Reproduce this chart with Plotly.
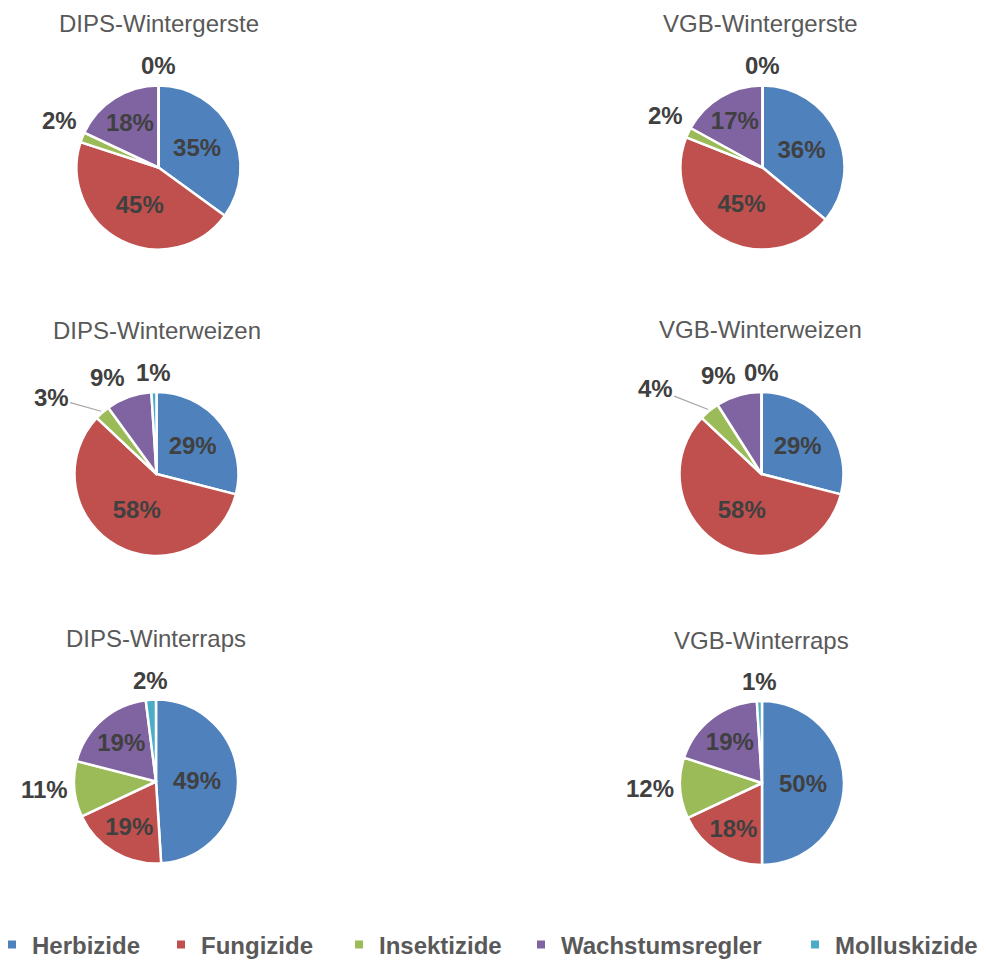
import math
import plotly.graph_objects as go

W, H = 986, 960
OFF = 8  # page offset of the plot inside the browser body

categories = ["Herbizide", "Fungizide", "Insektizide", "Wachstumsregler", "Molluskizide"]
colors = ["#4F81BD", "#C0504D", "#9BBB59", "#8064A2", "#4BACC6"]

titles = ["DIPS-Wintergerste", "VGB-Wintergerste",
          "DIPS-Winterweizen", "VGB-Winterweizen",
          "DIPS-Winterraps", "VGB-Winterraps"]

dips_wintergerste = [35, 45, 2, 18, 0]
vgb_wintergerste = [36, 45, 2, 17, 0]
dips_winterweizen = [29, 58, 3, 9, 1]
vgb_winterweizen = [29, 58, 4, 9, 0]
dips_winterraps = [49, 19, 11, 19, 2]
vgb_winterraps = [50, 18, 12, 19, 1]

series = [dips_wintergerste, vgb_wintergerste, dips_winterweizen,
          vgb_winterweizen, dips_winterraps, vgb_winterraps]

# ---- layout / style (pixel positions in the page) ----
centers = [(158.5, 167.5), (762.5, 167.5), (156.5, 474), (761.5, 474), (156, 781.5), (762, 783)]
R = 82
GAP = 4
title_pos = [(159, 23), (760, 23), (157, 330), (760, 329), (156, 638), (761, 640)]
# labels drawn with a leader line: (pie index, slice index) -> text offset in px
leaders = {(2, 2): (-50, -14), (3, 2): (-53, -21)}
legend_left = [-8, 161, 339, 521, 795]
legend_y = 945

FONT = "Liberation Sans, Arial, sans-serif"
LABEL_COLOR = "#404040"
TEXT_COLOR = "#595959"


def fx(px):
    return (px - OFF) / W


def fy(py):
    return 1 - (py - OFF) / H


fig = go.Figure()
annotations = []
for i, (vals, (cx, cy)) in enumerate(zip(series, centers)):
    total = sum(vals)
    inside = [v / total >= 0.15 for v in vals]
    fig.add_trace(go.Pie(
        labels=categories, values=vals, sort=False, direction="clockwise", rotation=0,
        marker=dict(colors=colors, line=dict(color="white", width=2.5)),
        texttemplate=["%{percent:.0%}" if ins else "" for ins in inside],
        textposition=["inside" if ins else "none" for ins in inside],
        insidetextorientation="horizontal",
        textfont=dict(family=FONT, size=24, color=LABEL_COLOR, weight="bold"),
        showlegend=False,
        domain=dict(x=[fx(cx - R), fx(cx + R)], y=[fy(cy + R), fy(cy - R)]),
        hoverinfo="label+percent",
    ))
    # outside labels, placed at the mid-angle of each small slice
    cum = 0
    for j, v in enumerate(vals):
        mid = (cum + v / 2) / total * 2 * math.pi
        cum += v
        if inside[j]:
            continue
        s, c = math.sin(mid), math.cos(mid)
        txt = f"{round(100 * v / total)}%"
        font = dict(family=FONT, size=24, color=LABEL_COLOR, weight="bold")
        if (i, j) in leaders:
            ax, ay = leaders[(i, j)]
            annotations.append(dict(
                text=txt, x=fx(cx + R * 1.02 * s), y=fy(cy - R * 1.02 * c),
                xref="paper", yref="paper", showarrow=True, arrowhead=0,
                arrowwidth=1.2, arrowcolor="#A6A6A6", ax=ax, ay=ay, standoff=0,
                font=font))
        else:
            px = cx + (R + GAP) * s
            py = cy - (R + GAP) * c
            xa = "right" if s < -0.15 else ("left" if s > 0.15 else "center")
            ya = "bottom" if c > 0.3 else ("top" if c < -0.3 else "middle")
            annotations.append(dict(
                text=txt, x=fx(px), y=fy(py), xref="paper", yref="paper",
                showarrow=False, xanchor=xa, yanchor=ya, font=font))

for t, (tx, ty) in zip(titles, title_pos):
    annotations.append(dict(text=t, x=fx(tx), y=fy(ty), xref="paper", yref="paper",
                            showarrow=False, xanchor="center", yanchor="middle",
                            font=dict(family=FONT, size=24, color=TEXT_COLOR)))

# legend: one legend per category so entries sit where the reference puts them
legend_layout = {}
for k, (cat, col, lx) in enumerate(zip(categories, colors, legend_left)):
    name = "legend" if k == 0 else f"legend{k + 1}"
    fig.add_trace(go.Scatter(
        x=[None], y=[None], mode="markers", name=cat, legend=name,
        marker=dict(symbol="square", size=8, color=col), showlegend=True,
        hoverinfo="skip"))
    legend_layout[name] = dict(
        x=fx(lx), y=fy(legend_y), xanchor="left", yanchor="middle",
        orientation="h", bgcolor="rgba(0,0,0,0)", borderwidth=0,
        font=dict(family=FONT, size=24, color=TEXT_COLOR, weight="bold"))

fig.update_layout(
    width=W, height=H,
    margin=dict(l=0, r=0, t=0, b=0, autoexpand=False),
    paper_bgcolor="white", plot_bgcolor="white",
    uniformtext=dict(minsize=24, mode="show"),
    xaxis=dict(visible=False), yaxis=dict(visible=False),
    annotations=annotations,
    **legend_layout,
)

fig.write_html("out.html")
